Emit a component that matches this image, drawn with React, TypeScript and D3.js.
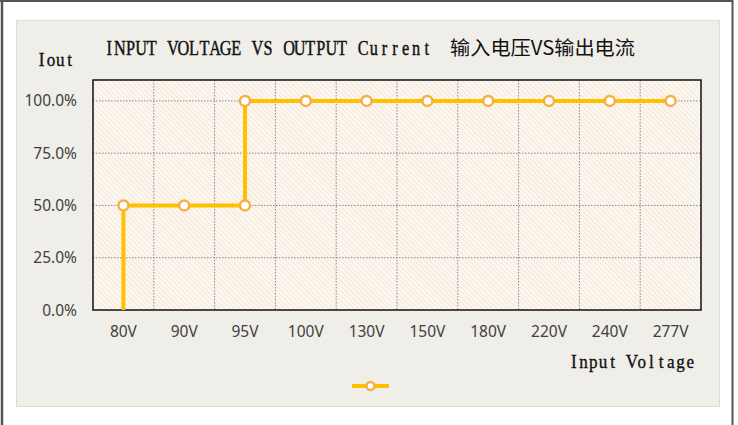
import React from 'react';
import * as d3 from 'd3';

// categories on the x axis
const categories = ['80V', '90V', '95V', '100V', '130V', '150V', '180V', '220V', '240V', '277V'];
// path of the step line: category + output current (fraction)
const lineCats = ['80V', '80V', '90V', '95V', '95V', '100V', '130V', '150V', '180V', '220V', '240V', '277V'];
const lineValues = [0, 0.5, 0.5, 0.5, 1, 1, 1, 1, 1, 1, 1, 1];
const markerFrom = 1; // first point has no marker
const yTicks = [0, 0.25, 0.5, 0.75, 1];

const titleLatin = 'INPUT VOLTAGE VS OUTPUT Current';
const titleCjk = '输入电压VS输出电流';
const yTitle = 'Iout';
const xTitle = 'Input Voltage';

const serif = '"Liberation Serif", "DejaVu Serif", serif';
const sans = '"Noto Sans", "Open Sans", sans-serif';

// half-width serif text, one glyph per fixed cell (like SimSun latin)
function MonoText(props: { text: string; x: number; y: number; adv: number; size: number; sx?: number; sw?: number }) {
    const sx = props.sx || 1;
    const a = props.adv / sx;
    const xs = props.text.split('').map((_, i) => (i + 0.5) * a);
    return (
        <g transform={`translate(${props.x},${props.y}) scale(${sx},1)`}>
            <text x={xs.join(' ')} y={0} textAnchor="middle" fontFamily={serif} fontSize={props.size}
                fill="#111" stroke="#111" strokeWidth={props.sw || 0.3}>{props.text}</text>
        </g>
    );
}

export default function App() {
    const width = 738;
    const height = 425;
    const plot = { left: 93, right: 701, top: 80, bottom: 310 };

    const x = d3.scaleBand<string>()
        .domain(categories)
        .range([plot.left, plot.right]);

    const y = d3.scaleLinear()
        .domain([0, 1.1])
        .range([plot.bottom, plot.top]);

    const cx = (c: string) => (x(c) as number) + x.bandwidth() / 2;

    const pts = lineCats.map((c, i) => [cx(c), y(lineValues[i])] as [number, number]);
    const line = d3.line();

    const lineColor = '#FFC000';
    const markerStroke = '#F6AE45';

    return (
        <svg width={width} height={height} style={{ position: 'absolute', left: 0, top: 0 }}>
            <defs>
                <pattern id="hatch" width="3.5" height="3.5" patternUnits="userSpaceOnUse" patternTransform="rotate(-45)">
                    <rect width="3.5" height="3.5" fill="#FBF7F1" />
                    <line x1="0" y1="0" x2="0" y2="3.5" stroke="#F4DCC6" strokeWidth="1.2" />
                </pattern>
            </defs>
            <rect x={0} y={0} width={width} height={height} fill="#fff" />
            {/* outer frame */}
            <line x1={2} y1={0} x2={2} y2={height} stroke="#555" strokeWidth={2.5} />
            <line x1={0} y1={1} x2={733} y2={1} stroke="#555" strokeWidth={2} />
            <line x1={732.5} y1={0} x2={732.5} y2={height} stroke="#555" strokeWidth={2} />

            {/* chart panel */}
            <rect x={16.5} y={20.5} width={703} height={386} fill="#F0EEE8" stroke="#DEDCD6" strokeWidth={1} />

            {/* plot area */}
            <rect x={plot.left} y={plot.top} width={plot.right - plot.left} height={plot.bottom - plot.top} fill="url(#hatch)" />

            {/* gridlines */}
            {yTicks.filter(t => t > 0).map(t => (
                <line key={'h' + t} x1={plot.left} x2={plot.right} y1={y(t)} y2={y(t)}
                    stroke="#8a8a8a" strokeWidth={1} strokeDasharray="1.5,1.5" />
            ))}
            {categories.slice(1).map(c => (
                <line key={'v' + c} x1={x(c)} x2={x(c)} y1={plot.top} y2={plot.bottom}
                    stroke="#8a8a8a" strokeWidth={1} strokeDasharray="1.5,1.5" />
            ))}

            <rect x={plot.left} y={plot.top} width={plot.right - plot.left} height={plot.bottom - plot.top}
                fill="none" stroke="#111" strokeWidth={1.5} />

            {/* y tick labels */}
            {yTicks.map(t => (
                <text key={'yt' + t} x={77} y={y(t)} dy="0.36em" textAnchor="end"
                    fontFamily={sans} fontSize={15.5} fill="#404040">{d3.format('.1%')(t)}</text>
            ))}
            {/* x tick labels */}
            {categories.map(c => (
                <text key={'xt' + c} x={cx(c)} y={337} textAnchor="middle"
                    fontFamily={sans} fontSize={15.5} fill="#404040">{c}</text>
            ))}

            {/* series */}
            <path d={line(pts) as string} fill="none" stroke={lineColor} strokeWidth={4} strokeLinejoin="round" />
            {pts.slice(markerFrom).map((p, i) => (
                <circle key={'m' + i} cx={p[0]} cy={p[1]} r={5} fill="#fff" stroke={markerStroke} strokeWidth={2.5} />
            ))}

            {/* titles */}
            <MonoText text={titleLatin} x={104} y={55} adv={10.58} size={22} sx={0.74} sw={0.45} />
            <text x={450} y={55} fontFamily='"Noto Sans CJK SC", sans-serif' fontSize={19.5} fill="#111"
                textLength={185} lengthAdjust="spacingAndGlyphs">{titleCjk}</text>
            <MonoText text={yTitle} x={37} y={66} adv={9.3} size={19} sx={0.9} sw={0.35} />
            <MonoText text={xTitle} x={569} y={368} adv={9.7} size={19} sx={0.9} sw={0.35} />

            {/* legend */}
            <line x1={352} x2={389} y1={386} y2={386} stroke={lineColor} strokeWidth={4} />
            <circle cx={370.5} cy={386} r={4} fill="#fff" stroke={markerStroke} strokeWidth={2.5} />
        </svg>
    );
}
